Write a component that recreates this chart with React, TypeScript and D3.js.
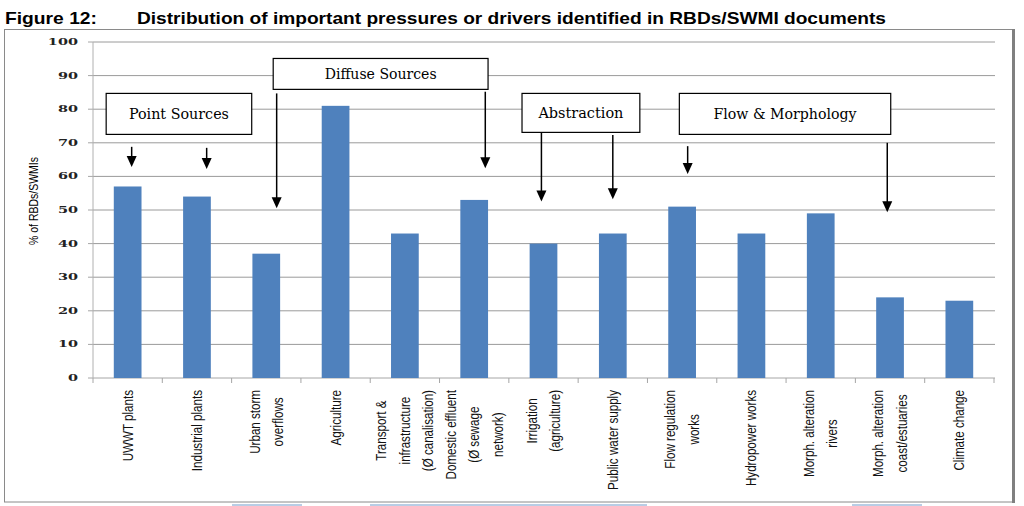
import React, { useEffect, useRef } from "react";
import * as d3 from "d3";

const categories: string[][] = [
  ["UWWT plants"],
  ["Industrial plants"],
  ["Urban storm", "overflows"],
  ["Agriculture"],
  ["Transport &", "infrastructure", "(Ø canalisation)"],
  ["Domestic effluent", "(Ø sewage", "network)"],
  ["Irrigation", "(agriculture)"],
  ["Public water supply"],
  ["Flow regulation", "works"],
  ["Hydropower works"],
  ["Morph. alteration", "rivers"],
  ["Morph. alteration", "coast/estuaries"],
  ["Climate change"],
];
const values: number[] = [57, 54, 37, 81, 43, 53, 40, 43, 51, 43, 49, 24, 23];
const yTicks: number[] = [0, 10, 20, 30, 40, 50, 60, 70, 80, 90, 100];

const titleLabel = "Figure 12:";
const titleText = "Distribution of important pressures or drivers identified in RBDs/SWMI documents";
const yAxisTitle = "% of RBDs/SWMIs";

// annotation boxes: band-unit x range, value-unit y range
const boxNames: string[] = ["Point Sources", "Diffuse Sources", "Abstraction", "Flow & Morphology"];
const boxX0: number[] = [0.19, 2.6, 6.19, 8.46];
const boxX1: number[] = [2.29, 5.7, 7.89, 11.51];
const boxYTop: number[] = [84.7, 95.1, 84.7, 84.7];
const boxYBot: number[] = [72.5, 85.9, 73.1, 72.5];
const boxTextLen: number[] = [100, 112, 85, 143];
// arrows: band-unit x, start value, tip value
const arrowX: number[] = [0.558, 1.64, 2.65, 5.66, 6.47, 7.5, 8.58, 11.46];
const arrowFrom: number[] = [68.8, 68.5, 84.7, 85.2, 73.0, 72.3, 69.0, 70.0];
const arrowTo: number[] = [62.8, 62.2, 50.5, 62.4, 52.5, 53.2, 60.7, 49.3];

const W = 1024;
const H = 506;
const M = { left: 93, right: 994, top: 42, bottom: 378 };

export default function App() {
  const labelRef = useRef<SVGGElement | null>(null);

  const x = d3
    .scaleBand<number>()
    .domain(d3.range(categories.length))
    .range([M.left, M.right])
    .paddingInner(0)
    .paddingOuter(0);
  const bw = x.bandwidth();
  const xu = d3.scaleLinear().domain([0, categories.length]).range([M.left, M.right]);
  const y = d3.scaleLinear().domain([0, 100]).range([M.bottom, M.top]);
  const barW = bw * 0.4;

  useEffect(() => {
    const g = d3.select(labelRef.current);
    g.selectAll("*").remove();
    const sx = 0.8;
    categories.forEach((lines, i) => {
      const cx = (x(i) as number) + bw / 2;
      const t = g
        .append("text")
        .attr("font-family", "'Liberation Sans', Arial, sans-serif")
        .attr("font-size", 14.5)
        .attr("fill", "#111")
        .attr("text-anchor", "middle");
      const n = lines.length;
      const spans = lines.map((ln, j) =>
        t
          .append("tspan")
          .attr("y", (j - (n - 1) / 2) * 23.5 + 5)
          .text(ln)
      );
      let maxLen = 0;
      spans.forEach((s) => {
        const node = s.node() as SVGTSpanElement;
        const l = node.getComputedTextLength();
        if (l > maxLen) maxLen = l;
      });
      spans.forEach((s) => s.attr("x", -maxLen / 2));
      t.attr("transform", `translate(${cx},390) rotate(-90) scale(${sx},1)`);
    });
  }, []);

  return (
    <svg
      width={W}
      height={H}
      style={{ position: "absolute", left: 0, top: 0, background: "#fff" }}
    >
      <rect x={0} y={0} width={W} height={H} fill="#fff" />
      {/* title */}
      <text
        x={5}
        y={24}
        fontFamily="'Liberation Sans', Arial, sans-serif"
        fontWeight="bold"
        fontSize={17}
        fill="#000"
        textLength={92}
        lengthAdjust="spacingAndGlyphs"
      >
        {titleLabel}
      </text>
      <text
        x={137}
        y={24}
        fontFamily="'Liberation Sans', Arial, sans-serif"
        fontWeight="bold"
        fontSize={17}
        fill="#000"
        textLength={749}
        lengthAdjust="spacingAndGlyphs"
      >
        {titleText}
      </text>
      {/* frame */}
      <rect x={4.5} y={29.5} width={1009} height={472.5} fill="none" stroke="#8a8a8a" strokeWidth={1} />
      <line x1={1013.5} x2={1013.5} y1={29} y2={503} stroke="#808080" strokeWidth={3} />
      {/* page artifacts below frame */}
      {[
        [232, 302],
        [370, 647],
        [852, 922],
      ].map(([a, b], i) => (
        <rect key={i} x={a} y={504} width={b - a} height={2} fill="#b9cde5" />
      ))}
      {/* gridlines */}
      {yTicks.map((t) => (
        <g key={t}>
          <line x1={M.left} x2={M.right + 1} y1={y(t)} y2={y(t)} stroke={t === 0 ? "#a6a6a6" : "#9a9a9a"} strokeWidth={1} />
          <line x1={M.left - 5} x2={M.left} y1={y(t)} y2={y(t)} stroke="#a6a6a6" strokeWidth={1} />
          <text
            transform={`translate(78,${y(t) + 3}) scale(1.7,1)`}
            textAnchor="end"
            fontFamily="'DejaVu Serif', serif"
            fontWeight="bold"
            fontSize={8.5}
            fill="#222"
          >
            {t}
          </text>
        </g>
      ))}
      {/* y axis line */}
      <line x1={M.left} x2={M.left} y1={M.top} y2={M.bottom} stroke="#b0b0b0" strokeWidth={1} />
      {/* x ticks */}
      {d3.range(categories.length + 1).map((i) => (
        <line key={i} x1={xu(i)} x2={xu(i)} y1={M.bottom} y2={M.bottom + 5} stroke="#a6a6a6" strokeWidth={1} />
      ))}
      {/* bars */}
      {values.map((v, i) => (
        <rect
          key={i}
          x={(x(i) as number) + (bw - barW) / 2}
          y={y(v)}
          width={barW}
          height={y(0) - y(v)}
          fill="#4f81bd"
        />
      ))}
      {/* y axis title */}
      <text
        transform={`translate(37.5,201) rotate(-90)`}
        textAnchor="middle"
        fontFamily="'Liberation Sans', Arial, sans-serif"
        fontSize={13}
        fill="#000"
        textLength={88}
        lengthAdjust="spacingAndGlyphs"
      >
        {yAxisTitle}
      </text>
      {/* category labels */}
      <g ref={labelRef} />
      {/* annotation boxes */}
      {boxNames.map((name, i) => {
        const x0 = xu(boxX0[i]);
        const x1 = xu(boxX1[i]);
        const y0 = y(boxYTop[i]);
        const y1 = y(boxYBot[i]);
        return (
          <g key={name}>
            <rect x={x0} y={y0} width={x1 - x0} height={y1 - y0} fill="#fff" stroke="#000" strokeWidth={1.2} />
            <text
              x={(x0 + x1) / 2}
              y={(y0 + y1) / 2 + 5.5}
              textAnchor="middle"
              fontFamily="'DejaVu Serif', serif"
              fontSize={15}
              fill="#000"
              textLength={boxTextLen[i]}
              lengthAdjust="spacingAndGlyphs"
            >
              {name}
            </text>
          </g>
        );
      })}
      {/* arrows */}
      {arrowX.map((ax, i) => {
        const px = xu(ax);
        const ys = y(arrowFrom[i]);
        const yt = y(arrowTo[i]);
        const hh = 11;
        const hw = 5;
        return (
          <g key={i}>
            <line x1={px} x2={px} y1={ys} y2={yt - hh + 1} stroke="#000" strokeWidth={1.5} />
            <path d={`M${px - hw},${yt - hh} L${px + hw},${yt - hh} L${px},${yt} Z`} fill="#000" />
          </g>
        );
      })}
    </svg>
  );
}
